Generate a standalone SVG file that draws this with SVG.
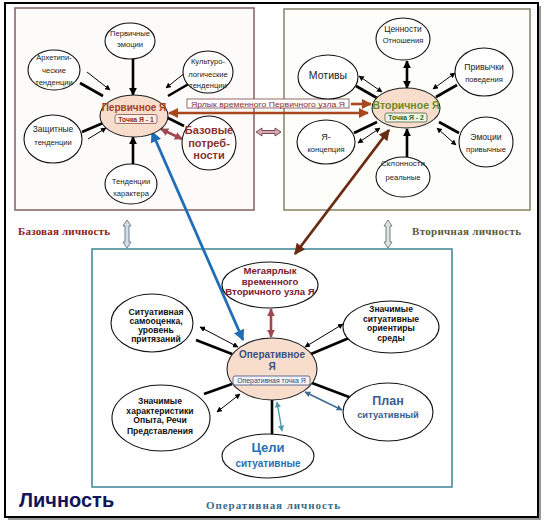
<svg xmlns="http://www.w3.org/2000/svg" width="544" height="524" viewBox="0 0 544 524">
<defs>
<style>
text{font-family:"Liberation Sans",Arial,sans-serif;text-anchor:middle}
.e{fill:#fff;stroke:#111;stroke-width:1.1}
.c{fill:#f8ddcc;stroke:#222;stroke-width:1.1}
.t{font-size:7.6px;fill:#222}
.tb{font-size:8.6px;font-weight:bold;fill:#111}
.thk{stroke:#000;stroke-width:2.6;fill:none}
.thn{stroke:#000;stroke-width:1;fill:none}
.ser{font-family:"Liberation Serif","Times New Roman",serif;font-weight:bold;font-size:11px;text-anchor:start}
</style>
<marker id="mb" viewBox="0 0 10 10" refX="9" refY="5" markerWidth="8" markerHeight="8" markerUnits="userSpaceOnUse" orient="auto-start-reverse"><path d="M0,0 L10,5 L0,10 z" fill="#000"/></marker>
<marker id="ms" viewBox="0 0 10 10" refX="9" refY="5" markerWidth="5.5" markerHeight="5.5" markerUnits="userSpaceOnUse" orient="auto-start-reverse"><path d="M0,0 L10,5 L0,10 z" fill="#000"/></marker>
<marker id="mbr" viewBox="0 0 10 10" refX="9" refY="5" markerWidth="10" markerHeight="10" markerUnits="userSpaceOnUse" orient="auto-start-reverse"><path d="M0,0 L10,5 L0,10 z" fill="#a8461e"/></marker>
<marker id="mbl" viewBox="0 0 10 10" refX="9" refY="5" markerWidth="11" markerHeight="11" markerUnits="userSpaceOnUse" orient="auto-start-reverse"><path d="M0,0 L10,5 L0,10 z" fill="#1f6cb8"/></marker>
<marker id="mdb" viewBox="0 0 10 10" refX="9" refY="5" markerWidth="11" markerHeight="11" markerUnits="userSpaceOnUse" orient="auto-start-reverse"><path d="M0,0 L10,5 L0,10 z" fill="#6b2a12"/></marker>
<marker id="mmr" viewBox="0 0 10 10" refX="9" refY="5" markerWidth="8" markerHeight="8" markerUnits="userSpaceOnUse" orient="auto-start-reverse"><path d="M0,0 L10,5 L0,10 z" fill="#a04850"/></marker>
<marker id="mtl" viewBox="0 0 10 10" refX="9" refY="5" markerWidth="6" markerHeight="6" markerUnits="userSpaceOnUse" orient="auto-start-reverse"><path d="M0,0 L10,5 L0,10 z" fill="#4a9aaa"/></marker>
<marker id="mst" viewBox="0 0 10 10" refX="9" refY="5" markerWidth="6" markerHeight="6" markerUnits="userSpaceOnUse" orient="auto-start-reverse"><path d="M0,0 L10,5 L0,10 z" fill="#3f6a90"/></marker>
</defs>

<g id="frame">
<rect x="8" y="6" width="533" height="514" fill="#9a9a9a"/>
<rect x="5" y="3" width="533" height="514" fill="#fff" stroke="#000" stroke-width="2"/>
<rect x="15" y="8" width="239" height="202" fill="#fdfbfa" stroke="#8a6a6a" stroke-width="1.6"/>
<rect x="284" y="9" width="246" height="201" fill="#fdfdfa" stroke="#8a8a72" stroke-width="1.6"/>
<rect x="92" y="249" width="360" height="238" fill="#fff" stroke="#5a9aa6" stroke-width="1.8"/>
</g>

<g id="connectors">
<!-- left box -->
<line class="thk" x1="133" y1="59" x2="133" y2="95" marker-end="url(#mb)"/>
<line class="thk" x1="133" y1="164" x2="133" y2="137" marker-end="url(#mb)"/>
<line class="thn" x1="87" y1="72" x2="110" y2="90" marker-end="url(#ms)"/>
<line class="thk" x1="80" y1="83" x2="103" y2="96"/>
<line class="thn" x1="186" y1="72" x2="166" y2="88" marker-end="url(#ms)"/>
<line class="thk" x1="192" y1="82" x2="168" y2="96"/>
<line class="thk" x1="82" y1="132" x2="103" y2="123"/>
<line class="thn" x1="88" y1="139" x2="106" y2="128" marker-end="url(#ms)"/>
<line class="thk" x1="184" y1="126" x2="164" y2="116"/>
<line stroke="#a04850" stroke-width="2.6" x1="161" y1="129" x2="182" y2="139" marker-start="url(#mmr)" marker-end="url(#mmr)"/>
<!-- right box -->
<line class="thk" x1="407" y1="61" x2="407" y2="88" marker-start="url(#mb)" marker-end="url(#mb)"/>
<line class="thk" x1="407" y1="157" x2="407" y2="129" marker-end="url(#mb)"/>
<line class="thn" x1="359" y1="76" x2="382" y2="92" marker-start="url(#ms)" marker-end="url(#ms)"/>
<line class="thk" x1="356" y1="86" x2="377" y2="98"/>
<line class="thn" x1="455" y1="73" x2="433" y2="89" marker-start="url(#ms)" marker-end="url(#ms)"/>
<line class="thk" x1="457" y1="85" x2="436" y2="97"/>
<line class="thk" x1="354" y1="133" x2="377" y2="122"/>
<line class="thn" x1="358" y1="143" x2="380" y2="128" marker-start="url(#ms)" marker-end="url(#ms)"/>
<line class="thk" x1="439" y1="122" x2="459" y2="133"/>
<line class="thn" x1="437" y1="128" x2="456" y2="145" marker-start="url(#ms)" marker-end="url(#ms)"/>
<!-- between top boxes -->
<line stroke="#a8461e" stroke-width="2.6" x1="169" y1="113" x2="368" y2="113" marker-start="url(#mbr)" marker-end="url(#mbr)"/>
<line stroke="#a8461e" stroke-width="2.6" x1="351" y1="104" x2="371" y2="104" marker-end="url(#mbr)"/>
<path d="M256,132 L262,128 L262,130.5 L275,130.5 L275,128 L281,132 L275,136 L275,133.5 L262,133.5 L262,136 Z" fill="#d6a8b0" stroke="#6a3a48" stroke-width="0.9"/>
<path d="M127,220 L131,226 L129,226 L129,242 L131,242 L127,248 L123,242 L125,242 L125,226 L123,226 Z" fill="#d2deec" stroke="#6a7282" stroke-width="0.9"/>
<path d="M388,220 L392,226 L390,226 L390,242 L392,242 L388,248 L384,242 L386,242 L386,226 L384,226 Z" fill="#dde4e4" stroke="#6a7272" stroke-width="0.9"/>
<!-- long arrows -->
<line stroke="#1f6cb8" stroke-width="2.8" x1="152" y1="132" x2="243" y2="340" marker-start="url(#mbl)" marker-end="url(#mbl)"/>
<line stroke="#6b2a12" stroke-width="2.8" x1="389" y1="130" x2="295" y2="254" marker-start="url(#mdb)" marker-end="url(#mdb)"/>
<!-- bottom box -->
<line stroke="#a04850" stroke-width="2.6" x1="271" y1="309" x2="271" y2="337" marker-start="url(#mmr)" marker-end="url(#mmr)"/>
<line class="thn" x1="200" y1="327" x2="238" y2="347" marker-start="url(#ms)" marker-end="url(#ms)"/>
<line class="thk" x1="196" y1="340" x2="232" y2="354"/>
<line class="thn" x1="343" y1="324" x2="305" y2="347" marker-start="url(#ms)" marker-end="url(#ms)"/>
<line class="thk" x1="349" y1="338" x2="311" y2="354"/>
<line class="thk" x1="204" y1="394" x2="232" y2="384"/>
<line class="thn" x1="217" y1="412" x2="240" y2="394" marker-start="url(#ms)" marker-end="url(#ms)"/>
<line class="thk" x1="272" y1="400" x2="272" y2="434"/>
<line stroke="#4a9aaa" stroke-width="1.4" x1="277" y1="402" x2="282" y2="431" marker-start="url(#mtl)" marker-end="url(#mtl)"/>
<line class="thk" x1="312" y1="383" x2="349" y2="397"/>
<line stroke="#3f6a90" stroke-width="1.4" x1="305" y1="392" x2="342" y2="410" marker-start="url(#mst)" marker-end="url(#mst)"/>
</g>

<g id="label-yarlyk">
<rect x="187" y="99" width="162" height="9" fill="#fff" stroke="#8a5a5a" stroke-width="0.9"/>
<text x="268" y="106.5" font-size="8" fill="#8b2a2a" textLength="154" lengthAdjust="spacingAndGlyphs">Ярлык  временного  Первичного  узла  Я</text>
</g>

<g id="n-pervichnoe">
<ellipse class="c" cx="134" cy="116" rx="34" ry="21"/>
<text x="134" y="111" font-size="10" font-weight="bold" fill="#a8401e">Первичное Я</text>
<rect x="115" y="114.5" width="42" height="9" rx="2" fill="#fbeee6" stroke="#8a5050" stroke-width="0.8"/>
<text x="136" y="121.5" font-size="6.8" font-weight="bold" fill="#8b2a2a">Точка Я - 1</text>
</g>
<g id="n-emocii"><ellipse class="e" cx="130" cy="41" rx="25" ry="18"/><text class="t" x="130" y="36">Первичные</text><text class="t" x="130" y="47">эмоции</text></g>
<g id="n-arhetip"><ellipse class="e" cx="54" cy="70" rx="26" ry="20"/><text class="t" x="54" y="60">Архетипи-</text><text class="t" x="54" y="73">ческие</text><text class="t" x="54" y="85">тенденции</text></g>
<g id="n-kultur"><ellipse class="e" cx="208" cy="72" rx="25" ry="21"/><text class="t" x="208" y="64">Культуро-</text><text class="t" x="208" y="77">логические</text><text class="t" x="208" y="88">тенденции</text></g>
<g id="n-zashit"><ellipse class="e" cx="53" cy="139" rx="29" ry="24"/><text x="53" y="132" font-size="8.4" fill="#222">Защитные</text><text class="t" x="53" y="145">тенденции</text></g>
<g id="n-bazovye"><ellipse class="e" cx="209" cy="143" rx="27" ry="27"/><text x="209" y="134" font-size="11" font-weight="bold" fill="#8b2f2f">Базовые</text><text x="209" y="147" font-size="11" font-weight="bold" fill="#8b2f2f">потреб-</text><text x="209" y="159" font-size="11" font-weight="bold" fill="#8b2f2f">ности</text></g>
<g id="n-harakter"><ellipse class="e" cx="131" cy="184" rx="26" ry="20"/><text class="t" x="131" y="184">Тенденции</text><text class="t" x="131" y="196">характера</text></g>

<g id="n-vtorichnoe">
<ellipse class="c" cx="406" cy="108" rx="34" ry="20"/>
<text x="406" y="109" font-size="10.5" font-weight="bold" fill="#6a8a1e">Вторичное Я</text>
<rect x="385" y="113" width="42" height="9" rx="2" fill="#eef6e6" stroke="#4a6a4a" stroke-width="0.8"/>
<text x="406" y="120" font-size="6.8" font-weight="bold" fill="#2a6a2a">Точка Я - 2</text>
</g>
<g id="n-cennosti"><ellipse class="e" cx="403" cy="39" rx="27" ry="21"/><text x="403" y="32" font-size="8.4" fill="#222">Ценности</text><text class="t" x="403" y="43">Отношения</text></g>
<g id="n-motivy"><ellipse class="e" cx="328" cy="77" rx="30" ry="22"/><text x="328" y="79" font-size="10.5" fill="#222">Мотивы</text></g>
<g id="n-privychki"><ellipse class="e" cx="484" cy="72" rx="29" ry="24"/><text x="484" y="70" font-size="8.6" fill="#222">Привычки</text><text class="t" x="484" y="82">поведения</text></g>
<g id="n-yakoncepciya"><ellipse class="e" cx="326" cy="142" rx="29" ry="22"/><text x="326" y="140" font-size="9" fill="#222">Я-</text><text class="t" x="326" y="152">концепция</text></g>
<g id="n-emocii2"><ellipse class="e" cx="486" cy="142" rx="27" ry="25"/><text x="486" y="140" font-size="8.6" fill="#222">Эмоции</text><text class="t" x="486" y="152">привычные</text></g>
<g id="n-sklonnosti"><ellipse class="e" cx="403" cy="177" rx="27" ry="20"/><text x="403" y="166" font-size="8" fill="#222">Склонности</text><text class="t" x="403" y="180">реальные</text></g>

<g id="n-megayarlyk"><ellipse class="e" cx="270" cy="285" rx="48" ry="23"/>
<text x="270" y="274" font-size="9.6" font-weight="bold" fill="#7a2030">Мегаярлык</text>
<text x="270" y="285" font-size="9.6" font-weight="bold" fill="#7a2030">временного</text>
<text x="270" y="295" font-size="9.6" font-weight="bold" fill="#7a2030">Вторичного узла Я</text></g>
<g id="n-operativnoe"><ellipse class="c" cx="272" cy="369" rx="45" ry="31"/>
<text x="272" y="358" font-size="10" font-weight="bold" fill="#3a5080">Оперативное</text>
<text x="272" y="370" font-size="10" font-weight="bold" fill="#3a5080">Я</text>
<rect x="233" y="376" width="77" height="9" rx="2" fill="#f4f4f6" stroke="#3a5080" stroke-width="0.8"/>
<text x="271.5" y="383" font-size="6.9" fill="#2a4a80">Оперативная точка Я</text></g>
<g id="n-samoocenka"><ellipse class="e" cx="152" cy="323" rx="41" ry="29"/>
<text class="tb" x="156" y="315">Ситуативная</text><text class="tb" x="156" y="324">самооценка,</text><text class="tb" x="156" y="333">уровень</text><text class="tb" x="156" y="342">притязаний</text></g>
<g id="n-orientiry"><ellipse class="e" cx="391" cy="327" rx="48" ry="26"/>
<text class="tb" x="391" y="312">Значимые</text><text class="tb" x="391" y="322">ситуативные</text><text class="tb" x="391" y="331">ориентиры</text><text class="tb" x="391" y="341">среды</text></g>
<g id="n-harakteristiki"><ellipse class="e" cx="161" cy="418" rx="49" ry="33"/>
<text class="tb" x="160" y="404">Значимые</text><text class="tb" x="160" y="413.5">характеристики</text><text class="tb" x="160" y="423">Опыта,  Речи</text><text class="tb" x="160" y="434">Представления</text></g>
<g id="n-celi"><ellipse class="e" cx="268" cy="456" rx="46" ry="22"/>
<text x="268" y="452" font-size="13" font-weight="bold" fill="#2a70b0">Цели</text>
<text x="268" y="467" font-size="10" font-weight="bold" fill="#2a70b0">ситуативные</text></g>
<g id="n-plan"><ellipse class="e" cx="388" cy="412" rx="45" ry="29"/>
<text x="388" y="405" font-size="12.5" font-weight="bold" fill="#3a6090">План</text>
<text x="388" y="418" font-size="9.4" font-weight="bold" fill="#3a6090">ситуативный</text></g>

<g id="labels">
<text class="ser" x="18" y="235" fill="#8b1a1a" textLength="92">Базовая  личность</text>
<text class="ser" x="412" y="235" fill="#5a5a3a" textLength="109">Вторичная  личность</text>
<text class="ser" x="206" y="509" fill="#3a6a8a" font-weight="normal" font-size="12" textLength="134">Оперативная  личность</text>
<text x="19" y="507" font-size="20" font-weight="bold" fill="#14145a" style="text-anchor:start">Личность</text>
</g>
</svg>
